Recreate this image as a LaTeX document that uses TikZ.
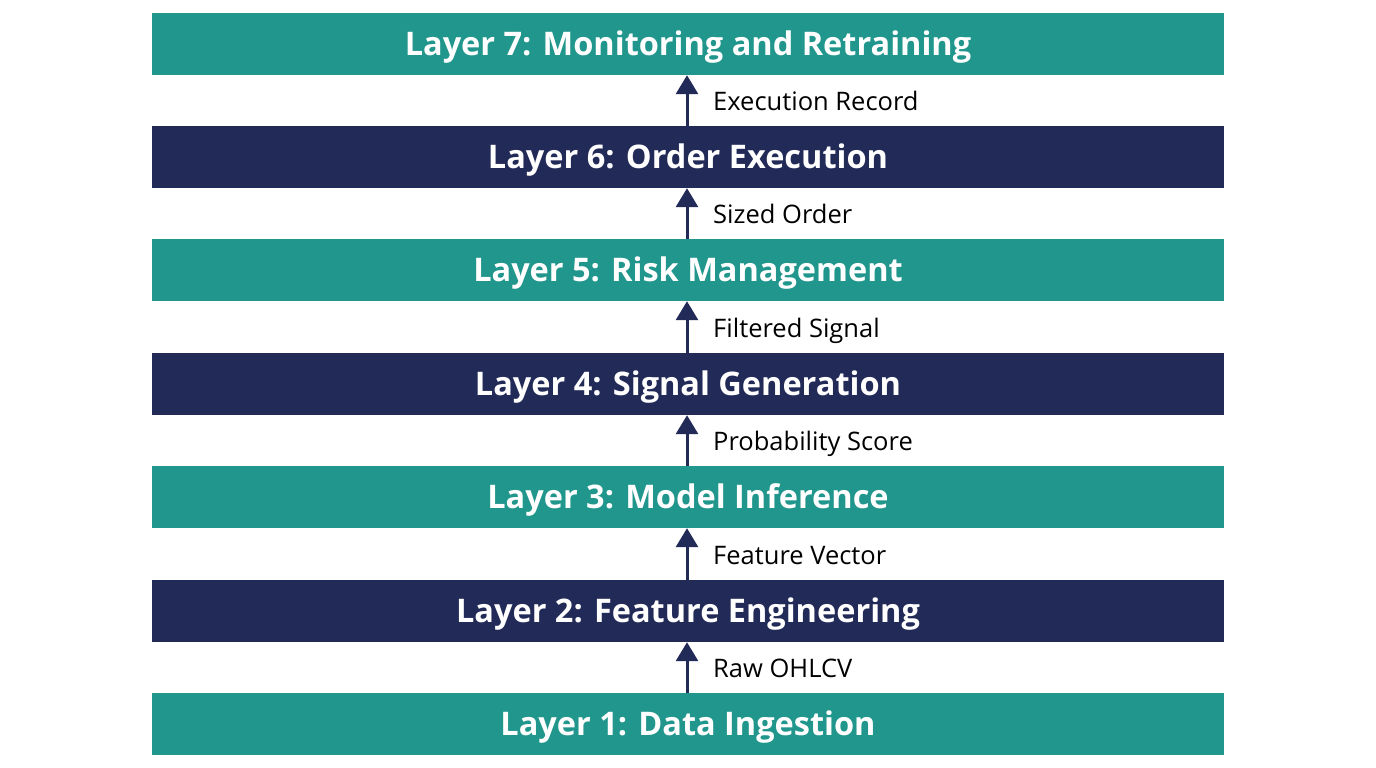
\documentclass[tikz,border=0pt]{standalone}
\usepackage{fontspec}
\setmainfont{Open Sans}
\usetikzlibrary{arrows.meta,calc}
\definecolor{teal1}{HTML}{21968C}
\definecolor{navy1}{HTML}{222A58}
\tikzset{
  layer/.style={minimum width=1072pt, minimum height=62pt, inner sep=0pt},
  tealbar/.style={layer, fill=teal1},
  navybar/.style={layer, fill=navy1},
  ttl/.style={inner sep=0pt, text=white, font=\fontsize{32.5}{38}\selectfont\bfseries, text height=23.2pt, text depth=0pt},
  flow/.style={draw=navy1, line width=3pt, -{Triangle[length=19pt, width=22pt]}},
  lbl/.style={anchor=west, font=\fontsize{25.5}{30}\selectfont, text=black, inner sep=0pt, text height=18.2pt, text depth=0pt}
}
\begin{document}
\begin{tikzpicture}[x=1pt, y=-1pt]
\useasboundingbox[fill=white] (0,0) rectangle (1376,768);
\foreach \n/\y/\c/\t in {7/44/tealbar/Layer 7: Monitoring and Retraining,
                         6/157/navybar/Layer 6: Order Execution,
                         5/270/tealbar/Layer 5: Risk Management,
                         4/384/navybar/Layer 4: Signal Generation,
                         3/497/tealbar/Layer 3: Model Inference,
                         2/611/navybar/Layer 2: Feature Engineering,
                         1/724/tealbar/Layer 1: Data Ingestion}{
  \node[\c] (l\n) at (688,\y) {};
  \node[ttl] (tt\n) at (l\n.center) {\t};
}
\foreach \a/\b/\t in {l1/l2/Raw OHLCV, l2/l3/Feature Vector, l3/l4/Probability Score, l4/l5/Filtered Signal, l5/l6/Sized Order, l6/l7/Execution Record}{
  \coordinate (s-\a) at ([xshift=-1pt]\a.north);
  \coordinate (e-\a) at ([xshift=-1pt]\b.south);
  \draw[flow] (s-\a) -- (e-\a);
  \node[lbl] (t-\a) at ($(s-\a)!0.5!(e-\a)+(26,1)$) {\t};
}
\end{tikzpicture}
\end{document}
